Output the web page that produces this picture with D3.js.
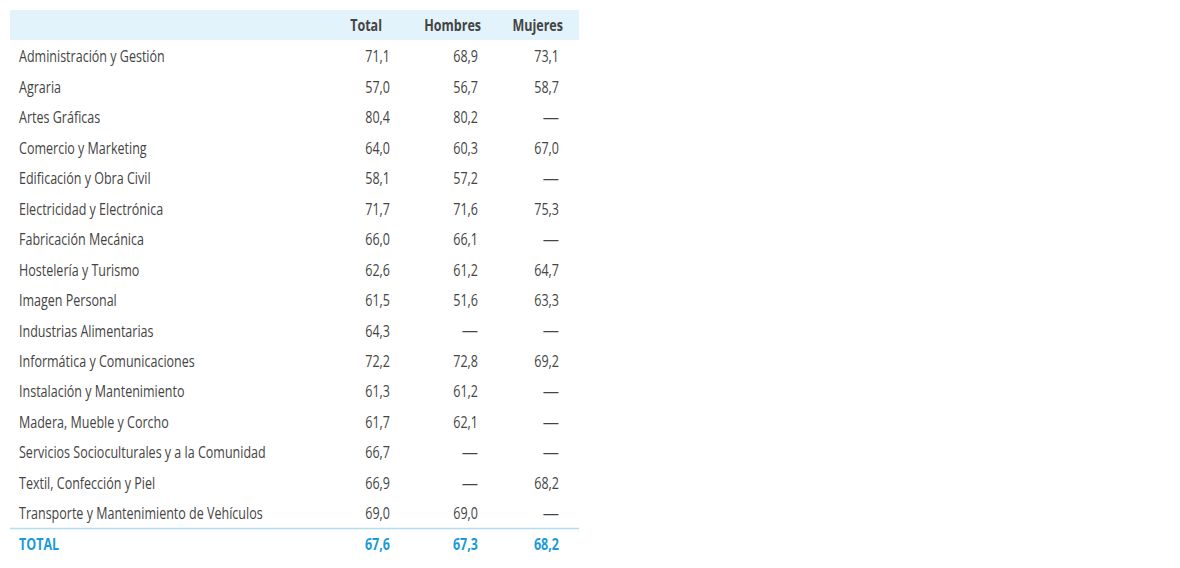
<!DOCTYPE html>
<html>
<head>
<meta charset="utf-8">
<script src="https://cdn.jsdelivr.net/npm/d3@7"></script>
<style>
  body { margin: 0; background: #fff; }
  text { font-family: "Open Sans", sans-serif; }
</style>
</head>
<body>
<div id="chart-container"></div>
<script>
/**************************************************
 * Table Data
 **************************************************/

const categories = [
  "Administración y Gestión",
  "Agraria",
  "Artes Gráficas",
  "Comercio y Marketing",
  "Edificación y Obra Civil",
  "Electricidad y Electrónica",
  "Fabricación Mecánica",
  "Hostelería y Turismo",
  "Imagen Personal",
  "Industrias Alimentarias",
  "Informática y Comunicaciones",
  "Instalación y Mantenimiento",
  "Madera, Mueble y Corcho",
  "Servicios Socioculturales y a la Comunidad",
  "Textil, Confección y Piel",
  "Transporte y Mantenimiento de Vehículos"
];

const columns = ["Total", "Hombres", "Mujeres"];

const totalValues   = [71.1, 57.0, 80.4, 64.0, 58.1, 71.7, 66.0, 62.6, 61.5, 64.3, 72.2, 61.3, 61.7, 66.7, 66.9, 69.0];
const hombresValues = [68.9, 56.7, 80.2, 60.3, 57.2, 71.6, 66.1, 61.2, 51.6, null, 72.8, 61.2, 62.1, null, null, 69.0];
const mujeresValues = [73.1, 58.7, null, 67.0, null, 75.3, null, 64.7, 63.3, null, 69.2, null, null, null, 68.2, null];

const totalLabel = "TOTAL";
const totalRow = [67.6, 67.3, 68.2];

/**************************************************
 * Rendering
 **************************************************/

const width = 1180, height = 568;
const textColor = "#444";
const blue = "#1a9bd7";
const fontSize = 15.5;

const fmt = v => v == null ? "—" : d3.format(".1f")(v).replace(".", ",");

const svg = d3.select("#chart-container")
  .append("svg")
  .attr("width", width)
  .attr("height", height);

// rows: categories + total row
const rowKeys = categories.concat([totalLabel]);
const y = d3.scaleBand()
  .domain(rowKeys)
  .range([41, 559]);

// right edges of the value columns
const x = d3.scaleOrdinal()
  .domain(columns)
  .range([390, 478, 559]);
const headerX = d3.scaleOrdinal()
  .domain(columns)
  .range([382, 481, 563]);

// condense the text horizontally to match the reference label width
const probe = svg.append("text").attr("font-size", fontSize).text(categories[13]);
const sx = 247 / probe.node().getComputedTextLength();
probe.remove();

const place = (px, py, s = sx) => `translate(${px},${py}) scale(${s},1)`;
const mid = d => y(d) + y.bandwidth() / 2;

// header band
svg.append("rect")
  .attr("x", 10)
  .attr("y", 10)
  .attr("width", 569)
  .attr("height", 30)
  .attr("fill", "#e3f3fb");

svg.selectAll(".col-header")
  .data(columns)
  .join("text")
  .attr("class", "col-header")
  .attr("transform", d => place(headerX(d), 25))
  .attr("text-anchor", "end")
  .attr("dominant-baseline", "central")
  .attr("font-size", fontSize)
  .attr("font-weight", "bold")
  .attr("fill", textColor)
  .text(d => d);

// category labels
svg.selectAll(".row-label")
  .data(categories)
  .join("text")
  .attr("class", "row-label")
  .attr("transform", d => place(19, mid(d)))
  .attr("dominant-baseline", "central")
  .attr("font-size", fontSize)
  .attr("fill", textColor)
  .text(d => d);

// values (dashes for missing data are kept at full width)
const series = [totalValues, hombresValues, mujeresValues];
series.forEach((vals, j) => {
  svg.selectAll(".cell-" + j)
    .data(vals)
    .join("text")
    .attr("class", "cell-" + j)
    .attr("transform", (d, i) => place(x(columns[j]), mid(categories[i]), d == null ? 1.05 : sx))
    .attr("text-anchor", "end")
    .attr("dominant-baseline", "central")
    .attr("font-size", fontSize)
    .attr("fill", textColor)
    .text(d => fmt(d));
});

// rule above total
svg.append("line")
  .attr("x1", 10)
  .attr("x2", 579)
  .attr("y1", y(totalLabel))
  .attr("y2", y(totalLabel))
  .attr("stroke", "#b3def2")
  .attr("stroke-width", 1.5);

// total row
svg.append("text")
  .attr("transform", place(19, mid(totalLabel)))
  .attr("dominant-baseline", "central")
  .attr("font-size", fontSize)
  .attr("font-weight", "bold")
  .attr("fill", blue)
  .text(totalLabel);

svg.selectAll(".total-cell")
  .data(totalRow)
  .join("text")
  .attr("class", "total-cell")
  .attr("transform", (d, j) => place(x(columns[j]), mid(totalLabel)))
  .attr("text-anchor", "end")
  .attr("dominant-baseline", "central")
  .attr("font-size", fontSize)
  .attr("font-weight", "bold")
  .attr("fill", blue)
  .text(d => fmt(d));
</script>
</body>
</html>
